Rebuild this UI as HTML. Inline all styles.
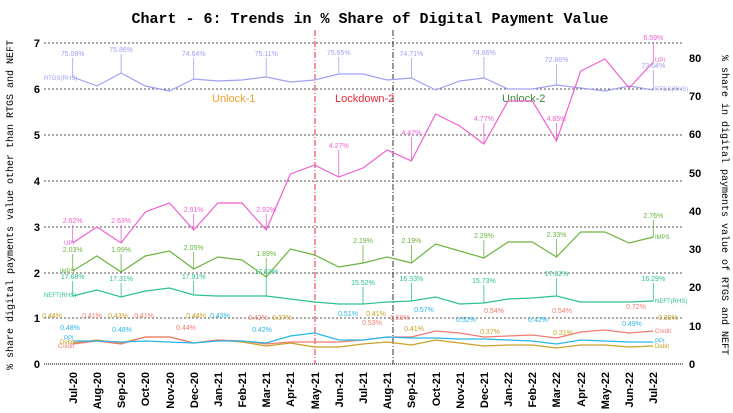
<!DOCTYPE html>
<html><head><meta charset="utf-8"><style>
body{margin:0;background:#fff}
svg{display:block}
.m{font-family:"Liberation Mono",monospace}
.s{font-family:"Liberation Sans",sans-serif}
</style></head><body>
<svg width="733" height="413" viewBox="0 0 733 413" xmlns="http://www.w3.org/2000/svg">
<text x="370" y="23" class="m" font-size="15" font-weight="bold" text-anchor="middle">Chart - 6: Trends in % Share of Digital Payment Value</text>
<text class="m" font-size="10" text-anchor="middle" transform="translate(13,205) rotate(-90)">% share digital payments value other than RTGS and NEFT</text>
<text class="m" font-size="10" text-anchor="middle" transform="translate(722,205) rotate(90)">% share in digital payments value of RTGS and NEFT</text>
<g stroke="#555" stroke-dasharray="2,2" stroke-width="1">
<line x1="44" y1="43" x2="683" y2="43"/><line x1="44" y1="89" x2="683" y2="89"/><line x1="44" y1="135" x2="683" y2="135"/><line x1="44" y1="181" x2="683" y2="181"/><line x1="44" y1="227" x2="683" y2="227"/><line x1="44" y1="273" x2="683" y2="273"/><line x1="44" y1="318" x2="683" y2="318"/>
</g>
<line x1="44" y1="364" x2="683" y2="364" stroke="#777" stroke-width="2" stroke-dasharray="1,1"/>
<g class="s" font-size="11" font-weight="bold" text-anchor="end">
<text x="40" y="47">7</text><text x="40" y="93">6</text><text x="40" y="139">5</text><text x="40" y="185">4</text><text x="40" y="231">3</text><text x="40" y="277">2</text><text x="40" y="322">1</text><text x="40" y="368">0</text>
</g>
<g class="s" font-size="11" font-weight="bold">
<text x="689" y="62">80</text><text x="689" y="100">70</text><text x="689" y="138">60</text><text x="689" y="177">50</text><text x="689" y="215">40</text><text x="689" y="253">30</text><text x="689" y="291">20</text><text x="689" y="330">10</text><text x="689" y="368">0</text>
</g>
<line x1="315" y1="30" x2="315" y2="364" stroke="#e8283a" stroke-dasharray="6,2,1,2"/>
<line x1="393" y1="30" x2="393" y2="364" stroke="#333" stroke-dasharray="6,2,1,2"/>
<g class="s" font-size="11">
<text x="212" y="102" fill="#f0a030">Unlock-1</text>
<text x="335" y="102" fill="#e8283a">Lockdown-2</text>
<text x="502" y="102" fill="#3a8a3a">Unlock-2</text>
</g>
<g class="s" font-size="11" font-weight="bold" text-anchor="end">
<text transform="translate(77,372) rotate(-90)">Jul-20</text>
<text transform="translate(101,372) rotate(-90)">Aug-20</text>
<text transform="translate(125,372) rotate(-90)">Sep-20</text>
<text transform="translate(149,372) rotate(-90)">Oct-20</text>
<text transform="translate(174,372) rotate(-90)">Nov-20</text>
<text transform="translate(198,372) rotate(-90)">Dec-20</text>
<text transform="translate(222,372) rotate(-90)">Jan-21</text>
<text transform="translate(246,372) rotate(-90)">Feb-21</text>
<text transform="translate(270,372) rotate(-90)">Mar-21</text>
<text transform="translate(294,372) rotate(-90)">Apr-21</text>
<text transform="translate(319,372) rotate(-90)">May-21</text>
<text transform="translate(343,372) rotate(-90)">Jun-21</text>
<text transform="translate(367,372) rotate(-90)">Jul-21</text>
<text transform="translate(391,372) rotate(-90)">Aug-21</text>
<text transform="translate(415,372) rotate(-90)">Sep-21</text>
<text transform="translate(440,372) rotate(-90)">Oct-21</text>
<text transform="translate(464,372) rotate(-90)">Nov-21</text>
<text transform="translate(488,372) rotate(-90)">Dec-21</text>
<text transform="translate(512,372) rotate(-90)">Jan-22</text>
<text transform="translate(536,372) rotate(-90)">Feb-22</text>
<text transform="translate(560,372) rotate(-90)">Mar-22</text>
<text transform="translate(585,372) rotate(-90)">Apr-22</text>
<text transform="translate(609,372) rotate(-90)">May-22</text>
<text transform="translate(633,372) rotate(-90)">Jun-22</text>
<text transform="translate(657,372) rotate(-90)">Jul-22</text>
</g>
<g fill="none" stroke-width="1.2">
<polyline stroke="#a0a0f5" points="72.7,77 96.9,86 121.1,73 145.3,86 169.5,91 193.7,79 217.8,81 242,80 266.2,77 290.4,82 314.6,80 338.8,74 363,74 387.2,80 411.4,78 435.6,90 459.7,81 483.9,78 508.1,89 532.3,89 556.5,85 580.7,88 604.9,91 629.1,86 653.3,90"/>
<polyline stroke="#f060d0" points="72.7,243 96.9,227 121.1,243 145.3,212 169.5,203 193.7,230 217.8,203 242,203 266.2,230 290.4,174 314.6,165 338.8,177 363,168 387.2,150 411.4,161 435.6,114 459.7,126 483.9,144 508.1,101 532.3,101 556.5,141 580.7,71 604.9,59 629.1,88 653.3,62"/>
<polyline stroke="#6cb33f" points="72.7,271 96.9,256 121.1,272 145.3,256 169.5,251 193.7,269 217.8,257 242,260 266.2,277 290.4,249 314.6,255 338.8,267 363,263 387.2,257 411.4,263 435.6,244 459.7,251 483.9,258 508.1,242 532.3,242 556.5,257 580.7,232 604.9,232 629.1,243 653.3,237"/>
<polyline stroke="#2ec28f" points="72.7,296 96.9,290 121.1,297 145.3,291 169.5,288 193.7,295 217.8,296 242,296 266.2,296 290.4,299 314.6,302 338.8,304 363,304 387.2,302 411.4,301 435.6,297 459.7,304 483.9,303 508.1,299 532.3,298 556.5,296 580.7,302 604.9,302 629.1,302 653.3,301"/>
<polyline stroke="#c9a227" points="72.7,343 96.9,340 121.1,343 145.3,337 169.5,337 193.7,343 217.8,340 242,342 266.2,346 290.4,343 314.6,347 338.8,347 363,344 387.2,342 411.4,345 435.6,340 459.7,343 483.9,346 508.1,345 532.3,345 556.5,348 580.7,345 604.9,345 629.1,347 653.3,346"/>
<polyline stroke="#f07b72" points="72.7,344 96.9,341 121.1,344 145.3,337 169.5,337 193.7,343 217.8,340 242,341 266.2,344 290.4,342 314.6,342 338.8,342 363,340 387.2,337 411.4,337 435.6,331 459.7,333 483.9,337 508.1,336 532.3,335 556.5,338 580.7,332 604.9,330 629.1,333 653.3,331"/>
<polyline stroke="#29b6e8" points="72.7,341 96.9,341 121.1,342 145.3,341 169.5,342 193.7,343 217.8,341 242,341 266.2,343 290.4,336 314.6,333 338.8,340 363,340 387.2,337 411.4,338 435.6,338 459.7,339 483.9,339 508.1,340 532.3,341 556.5,344 580.7,340 604.9,341 629.1,342 653.3,342"/>
</g>
<g class="s" font-size="7" text-anchor="middle">
<g fill="#a0a0f5" stroke-width="0.8">
<line x1="72.7" y1="58" x2="72.7" y2="77" stroke="#a0a0f5"/><text x="72.7" y="56">75.08%</text>
<line x1="121.1" y1="54" x2="121.1" y2="73" stroke="#a0a0f5"/><text x="121.1" y="52">75.86%</text>
<line x1="193.7" y1="58" x2="193.7" y2="79" stroke="#a0a0f5"/><text x="193.7" y="56">74.64%</text>
<line x1="266.2" y1="58" x2="266.2" y2="77" stroke="#a0a0f5"/><text x="266.2" y="56">75.11%</text>
<line x1="338.8" y1="57" x2="338.8" y2="74" stroke="#a0a0f5"/><text x="338.8" y="55">75.65%</text>
<line x1="411.4" y1="58" x2="411.4" y2="78" stroke="#a0a0f5"/><text x="411.4" y="56">74.71%</text>
<line x1="483.9" y1="57" x2="483.9" y2="78" stroke="#a0a0f5"/><text x="483.9" y="55">74.86%</text>
<line x1="556.5" y1="64" x2="556.5" y2="85" stroke="#a0a0f5"/><text x="556.5" y="62">72.86%</text>
<line x1="653.3" y1="70" x2="653.3" y2="90" stroke="#a0a0f5"/><text x="653.3" y="68">73.64%</text>
</g>
<g fill="#f060d0" stroke-width="0.8">
<line x1="72.7" y1="225" x2="72.7" y2="243" stroke="#f060d0"/><text x="72.7" y="223">2.62%</text>
<line x1="121.1" y1="225" x2="121.1" y2="243" stroke="#f060d0"/><text x="121.1" y="223">2.63%</text>
<line x1="193.7" y1="214" x2="193.7" y2="230" stroke="#f060d0"/><text x="193.7" y="212">2.91%</text>
<line x1="266.2" y1="214" x2="266.2" y2="230" stroke="#f060d0"/><text x="266.2" y="212">2.92%</text>
<line x1="338.8" y1="150" x2="338.8" y2="177" stroke="#f060d0"/><text x="338.8" y="148">4.27%</text>
<line x1="411.4" y1="137" x2="411.4" y2="161" stroke="#f060d0"/><text x="411.4" y="135">4.42%</text>
<line x1="483.9" y1="123" x2="483.9" y2="144" stroke="#f060d0"/><text x="483.9" y="121">4.77%</text>
<line x1="556.5" y1="123" x2="556.5" y2="141" stroke="#f060d0"/><text x="556.5" y="121">4.85%</text>
<line x1="653.3" y1="42" x2="653.3" y2="62" stroke="#f060d0"/><text x="653.3" y="40">6.59%</text>
</g>
<g fill="#6cb33f" stroke-width="0.8">
<line x1="72.7" y1="254" x2="72.7" y2="271" stroke="#6cb33f"/><text x="72.7" y="252">2.03%</text>
<line x1="121.1" y1="254" x2="121.1" y2="272" stroke="#6cb33f"/><text x="121.1" y="252">1.99%</text>
<line x1="193.7" y1="252" x2="193.7" y2="269" stroke="#6cb33f"/><text x="193.7" y="250">2.05%</text>
<line x1="266.2" y1="258" x2="266.2" y2="277" stroke="#6cb33f"/><text x="266.2" y="256">1.89%</text>
<line x1="363" y1="245" x2="363" y2="263" stroke="#6cb33f"/><text x="363" y="243">2.19%</text>
<line x1="411.4" y1="245" x2="411.4" y2="263" stroke="#6cb33f"/><text x="411.4" y="243">2.19%</text>
<line x1="483.9" y1="240" x2="483.9" y2="258" stroke="#6cb33f"/><text x="483.9" y="238">2.29%</text>
<line x1="556.5" y1="239" x2="556.5" y2="257" stroke="#6cb33f"/><text x="556.5" y="237">2.33%</text>
<line x1="653.3" y1="220" x2="653.3" y2="237" stroke="#6cb33f"/><text x="653.3" y="218">2.76%</text>
</g>
<g fill="#2ec28f" stroke-width="0.8">
<line x1="72.7" y1="281" x2="72.7" y2="296" stroke="#2ec28f"/><text x="72.7" y="279">17.68%</text>
<line x1="121.1" y1="283" x2="121.1" y2="297" stroke="#2ec28f"/><text x="121.1" y="281">17.31%</text>
<line x1="193.7" y1="281" x2="193.7" y2="295" stroke="#2ec28f"/><text x="193.7" y="279">17.91%</text>
<line x1="266.2" y1="276" x2="266.2" y2="296" stroke="#2ec28f"/><text x="266.2" y="274">17.63%</text>
<line x1="363" y1="287" x2="363" y2="304" stroke="#2ec28f"/><text x="363" y="285">15.52%</text>
<line x1="411.4" y1="283" x2="411.4" y2="301" stroke="#2ec28f"/><text x="411.4" y="281">16.33%</text>
<line x1="483.9" y1="285" x2="483.9" y2="303" stroke="#2ec28f"/><text x="483.9" y="283">15.73%</text>
<line x1="556.5" y1="278" x2="556.5" y2="296" stroke="#2ec28f"/><text x="556.5" y="276">17.62%</text>
<line x1="653.3" y1="283" x2="653.3" y2="301" stroke="#2ec28f"/><text x="653.3" y="281">16.29%</text>
</g>
<text x="52" y="318" fill="#c9a227">0.44%</text><text x="92" y="318" fill="#f07b72">0.41%</text><text x="70" y="330" fill="#29b6e8">0.48%</text>
<text x="118" y="318" fill="#c9a227">0.43%</text><text x="144" y="318" fill="#f07b72">0.41%</text><text x="122" y="332" fill="#29b6e8">0.48%</text>
<text x="196" y="318" fill="#c9a227">0.44%</text><text x="186" y="330" fill="#f07b72">0.44%</text><text x="220" y="318" fill="#29b6e8">0.43%</text>
<text x="258" y="320" fill="#f07b72">0.42%</text><text x="282" y="320" fill="#c9a227">0.37%</text><text x="262" y="332" fill="#29b6e8">0.42%</text>
<text x="348" y="316" fill="#29b6e8">0.51%</text><text x="372" y="325" fill="#f07b72">0.53%</text><text x="376" y="316" fill="#c9a227">0.41%</text>
<text x="400" y="320" fill="#f07b72">0.59%</text><text x="424" y="312" fill="#29b6e8">0.57%</text><text x="414" y="331" fill="#c9a227">0.41%</text>
<text x="466" y="322" fill="#29b6e8">0.52%</text><text x="494" y="313" fill="#f07b72">0.54%</text><text x="490" y="334" fill="#c9a227">0.37%</text>
<text x="538" y="322" fill="#29b6e8">0.42%</text><text x="562" y="313" fill="#f07b72">0.54%</text><text x="563" y="335" fill="#c9a227">0.31%</text>
<text x="636" y="309" fill="#f07b72">0.72%</text><text x="632" y="326" fill="#29b6e8">0.49%</text><text x="668" y="320" fill="#c9a227">0.39%</text>
</g>
<g class="s" font-size="6">
<text x="44" y="80" fill="#a0a0f5">RTGS(RHS)</text><text x="64" y="245" fill="#f060d0">UPI</text><text x="60" y="273" fill="#6cb33f">IMPS</text><text x="44" y="297" fill="#2ec28f">NEFT(RHS)</text><text x="64" y="340" fill="#29b6e8">PPI</text><text x="60" y="344" fill="#c9a227">Debit</text><text x="58" y="348" fill="#f07b72">Credit</text>
<text x="655" y="62" fill="#f060d0">UPI</text><text x="655" y="91" fill="#a0a0f5">RTGS(RHS)</text><text x="655" y="239" fill="#6cb33f">IMPS</text><text x="655" y="303" fill="#2ec28f">NEFT(RHS)</text><text x="655" y="333" fill="#f07b72">Credit</text><text x="655" y="343" fill="#29b6e8">PPI</text><text x="655" y="348" fill="#c9a227">Debit</text>
</g>
</svg>
</body></html>
